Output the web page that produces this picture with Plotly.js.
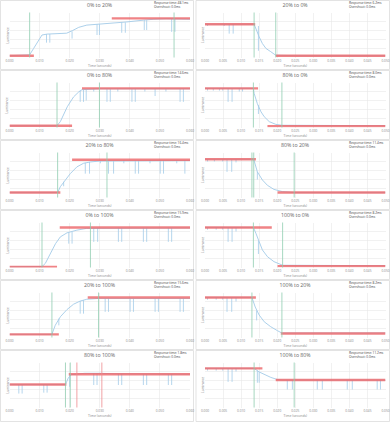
<!DOCTYPE html>
<html><head><meta charset="utf-8">
<script src="https://cdn.plot.ly/plotly-3.0.1.min.js"></script>
<style>html,body{margin:0;padding:0;background:#fff;overflow:hidden;}#wrap{width:390px;height:422px;overflow:hidden;}#chart{width:780px;height:844px;transform:scale(0.5);transform-origin:0 0;}</style>
</head><body><div id="wrap"><div id="chart"></div></div>
<script>
// ---------- data ----------
const TITLES = ["0% to 20%","20% to 0%","0% to 80%","80% to 0%","20% to 80%","80% to 20%","0% to 100%","100% to 0%","20% to 100%","100% to 20%","80% to 100%","100% to 80%"];
const RESPONSE_MS = [48.1,6.2,14.6,8.0,16.4,11.4,15.9,8.2,15.6,8.2,1.8,11.2];
const OVERSHOOT_MS = [0,0,0,0,0,0,0,0,0,0,0,0];
const START_LEVEL = [0.04,0.74,0.04,0.87,0.11,0.85,0.015,0.89,0.07,0.89,0.51,0.87];
const END_LEVEL   = [0.87,0.04,0.87,0.03,0.84,0.11,0.89,0.03,0.89,0.09,0.74,0.61];
const START_LINE_END_MS = [8.1,13.9,20.8,14.7,16.9,14.1,15.8,18.5,16.4,14.1,18.9,15.9];
const END_LINE_START_MS = [34.0,19.6,24.1,17.3,20.8,20.1,16.7,20.1,26.0,21.0,19.7,19.6];
const GREEN_MS = [[6.7,54.7],[13.6,19.6],[15.8,29.9],[13.4,21.3],[16.0,32.4],[13.0,13.5,24.7],[10.8,26.9],[13.4,21.5],[14.1,29.6],[13.0,21.3],[18.6,20.2],[13.6,24.7]];
const RED_V_MS = [[],[],[],[],[],[],[],[],[],[],[22.4,30.7],[]];
const X_MAX_S = [0.06,0.05,0.06,0.05,0.06,0.05,0.06,0.05,0.06,0.05,0.06,0.05];
const TICKS_LEFT = ["0.000","0.010","0.020","0.030","0.040","0.050","0.060"];
const TICKS_RIGHT = ["0.000","0.005","0.010","0.015","0.020","0.025","0.030","0.035","0.040","0.045","0.050"];

const curve01_ms = [0,6.7,8.0,10.8,12.5,15,19,21,23,25.7,30,35,39,44.5,48,52,60];
const curve01_y  = [0.04,0.06,0.2,0.5,0.52,0.53,0.54,0.6,0.67,0.72,0.74,0.77,0.79,0.83,0.85,0.86,0.85];
const spikes01_ms  = [12.3,13.4,20.8,29.1,29.9,37.3,38.5,44.8,45.6,53.9,55.0];
const spikes01_top = [0.52,0.52,0.58,0.74,0.74,0.78,0.78,0.83,0.83,0.86,0.86];
const spikes01_bot = [0.33,0.33,0.42,0.50,0.50,0.55,0.55,0.61,0.61,0.57,0.57];

const curve02_ms = [0,13.6,13.9,15.0,15.9,16.9,18.2,19.6,25,50];
const curve02_y  = [0.74,0.74,0.68,0.46,0.31,0.2,0.13,0.05,0.04,0.04];
const spikes02_ms  = [0.7,5.3,6.7,7.8,14.8];
const spikes02_top = [0.74,0.74,0.74,0.74,0.70];
const spikes02_bot = [0.70,0.70,0.53,0.53,0.15];

const curve03_ms = [0,15.8,16.9,19.2,21.3,23,24.1,30,60];
const curve03_y  = [0.04,0.04,0.13,0.46,0.68,0.79,0.84,0.86,0.86];
const spikes03_ms  = [23.5,24.6,25.5,28,32.4,33.5,36,40.7,41.8,45,48.4,52,56.7,57.8];
const spikes03_top = [0.82,0.84,0.85,0.86,0.86,0.86,0.86,0.86,0.86,0.86,0.86,0.86,0.86,0.86];
const spikes03_bot = [0.57,0.57,0.60,0.80,0.57,0.57,0.80,0.57,0.57,0.80,0.70,0.80,0.57,0.57];

const curve04_ms = [0,13.4,13.6,14.5,15.5,16.4,17.8,19.6,21.3,50];
const curve04_y  = [0.87,0.87,0.76,0.53,0.35,0.24,0.13,0.07,0.05,0.04];
const spikes04_ms  = [0.7,2.3,4.0,4.9,6.4,7.5,9.5,10.4,14.8];
const spikes04_top = [0.87,0.87,0.87,0.87,0.87,0.87,0.87,0.87,0.50];
const spikes04_bot = [0.82,0.82,0.82,0.82,0.57,0.57,0.80,0.80,0.30];

const curve05_ms = [0,16,16.9,18.6,20.2,22.4,24.6,26.9,30,60];
const curve05_y  = [0.11,0.11,0.24,0.39,0.53,0.68,0.76,0.79,0.81,0.82];
const spikes05_ms  = [18.0,25.2,26.6,30.2,32.9,34.6,38,41.8,42.9,46.7,50.1,51.2,55.6,58.3];
const spikes05_top = [0.35,0.77,0.79,0.81,0.81,0.81,0.82,0.82,0.82,0.82,0.82,0.82,0.82,0.82];
const spikes05_bot = [0.25,0.53,0.53,0.76,0.53,0.53,0.76,0.53,0.53,0.76,0.53,0.53,0.76,0.53];

const curve06_ms = [0,13.5,14.5,15.9,17.3,19.1,21.5,24.7,50];
const curve06_y  = [0.85,0.85,0.57,0.39,0.27,0.18,0.13,0.11,0.11];
const spikes06_ms  = [0.7,2.6,4.9,6.1,7.4,8.6,14.5];
const spikes06_top = [0.85,0.85,0.85,0.85,0.85,0.85,0.57];
const spikes06_bot = [0.80,0.80,0.80,0.57,0.57,0.78,0.40];

const curve07_ms = [0,10.8,11.9,13.6,15.3,16.9,19.1,22.4,25.7,60];
const curve07_y  = [0.015,0.02,0.09,0.31,0.53,0.68,0.77,0.83,0.87,0.88];
const spikes07_ms  = [19.7,20.8,28.0,29.3,36.2,37.3,44.5,45.6,52.8,53.9];
const spikes07_top = [0.78,0.79,0.88,0.88,0.88,0.88,0.88,0.88,0.88,0.88];
const spikes07_bot = [0.53,0.53,0.57,0.57,0.57,0.57,0.57,0.57,0.57,0.57];

const curve08_ms = [0,13.4,14.1,15.0,15.9,17.3,19.1,21.5,50];
const curve08_y  = [0.89,0.89,0.76,0.57,0.39,0.24,0.13,0.05,0.04];
const spikes08_ms  = [0.7,3.1,4.9,6.4,7.5,8.6,14.8];
const spikes08_top = [0.89,0.89,0.89,0.89,0.89,0.89,0.60];
const spikes08_bot = [0.84,0.84,0.84,0.57,0.57,0.80,0.30];

const curve09_ms = [0,14.1,15.2,16.9,19.1,21.3,23.5,25.7,30,60];
const curve09_y  = [0.07,0.07,0.27,0.46,0.62,0.74,0.81,0.85,0.87,0.87];
const spikes09_ms  = [16.4,23.5,24.6,31.8,32.9,40.1,41.2,48.4,49.5,56.7,57.8];
const spikes09_top = [0.42,0.81,0.83,0.87,0.87,0.87,0.87,0.87,0.87,0.87,0.87];
const spikes09_bot = [0.27,0.53,0.53,0.57,0.57,0.57,0.57,0.57,0.57,0.57,0.57];

const curve10_ms = [0,13.0,13.9,15.0,16.4,18.2,20.1,21.3,50];
const curve10_y  = [0.89,0.89,0.68,0.5,0.35,0.24,0.15,0.1,0.1];
const spikes10_ms  = [0.7,3.1,4.9,6.1,7.4,8.6,14.3];
const spikes10_top = [0.89,0.89,0.89,0.89,0.89,0.89,0.60];
const spikes10_bot = [0.84,0.84,0.84,0.57,0.57,0.80,0.38];

const curve11_ms = [0,18.6,19.5,20.5,25,30,35,60];
const curve11_y  = [0.51,0.51,0.65,0.73,0.76,0.76,0.75,0.74];
const spikes11_ms  = [3.1,4.2,11.4,12.5,20.0,28.0,29.1,36.2,37.3,44.5,45.6,52.8,53.9];
const spikes11_top = [0.51,0.51,0.51,0.51,0.74,0.76,0.76,0.75,0.75,0.74,0.74,0.74,0.74];
const spikes11_bot = [0.31,0.31,0.33,0.33,0.46,0.50,0.50,0.50,0.50,0.50,0.50,0.50,0.50];

const curve12_ms = [0,13.6,15.0,16.9,18.2,20.1,21.5,50];
const curve12_y  = [0.87,0.87,0.79,0.72,0.67,0.62,0.61,0.61];
const spikes12_ms  = [0.7,3.1,4.9,6.4,7.5,8.6,14.5,15.0,22.8,24.2,31.1,32.5,39.4,40.8,47.7,48.6];
const spikes12_top = [0.87,0.87,0.87,0.87,0.87,0.87,0.82,0.79,0.61,0.61,0.61,0.61,0.61,0.61,0.61,0.61];
const spikes12_bot = [0.82,0.82,0.82,0.57,0.57,0.80,0.55,0.55,0.40,0.40,0.40,0.40,0.40,0.40,0.40,0.40];

const CURVES = [
 [curve01_ms,curve01_y,spikes01_ms,spikes01_top,spikes01_bot],
 [curve02_ms,curve02_y,spikes02_ms,spikes02_top,spikes02_bot],
 [curve03_ms,curve03_y,spikes03_ms,spikes03_top,spikes03_bot],
 [curve04_ms,curve04_y,spikes04_ms,spikes04_top,spikes04_bot],
 [curve05_ms,curve05_y,spikes05_ms,spikes05_top,spikes05_bot],
 [curve06_ms,curve06_y,spikes06_ms,spikes06_top,spikes06_bot],
 [curve07_ms,curve07_y,spikes07_ms,spikes07_top,spikes07_bot],
 [curve08_ms,curve08_y,spikes08_ms,spikes08_top,spikes08_bot],
 [curve09_ms,curve09_y,spikes09_ms,spikes09_top,spikes09_bot],
 [curve10_ms,curve10_y,spikes10_ms,spikes10_top,spikes10_bot],
 [curve11_ms,curve11_y,spikes11_ms,spikes11_top,spikes11_bot],
 [curve12_ms,curve12_y,spikes12_ms,spikes12_top,spikes12_bot]
];

// ---------- build (drawn at 2x, scaled down by CSS so tiny text is allowed) ----------
const S = 2;
const W = 390, H = 422;
const BLUE = '#a3cbe8', RED = 'rgba(236,100,104,0.8)', GREEN = '#8fcdb0', GRID = '#e8e8e8';
const FONT = 'Open Sans, Liberation Sans, sans-serif';
const px = v => v / W, py = v => 1 - v / H;
const traces = [], shapes = [], annotations = [];
const layout = {width: W * S, height: H * S, margin: {l:0,r:0,t:0,b:0}, paper_bgcolor:'#fff', plot_bgcolor:'#fff', showlegend:false, font:{family:FONT, color:'#666'}};

for (let i = 0; i < 12; i++) {
  const n = i + 1, r = Math.floor(i / 2), c = i % 2;
  const xa = 'x' + (n > 1 ? n : ''), ya = 'y' + (n > 1 ? n : '');
  const bx0 = c === 0 ? 0.5 : 196, bx1 = c === 0 ? 193.5 : 389.5;
  const by0 = r * 70 + 0.5, by1 = (r === 5 ? 421.5 : r * 70 + 69.5);
  const plotL = bx0 + 9, plotR = c === 0 ? 190 : 385.5;
  const plotT = r * 70 + 12.5, plotB = r * 70 + 57.5;
  const left = c === 0;
  const tickText = left ? TICKS_LEFT : TICKS_RIGHT;
  const tickVals = tickText.map(Number);
  layout['xaxis' + (n > 1 ? n : '')] = {domain:[px(plotL), px(plotR)], anchor: ya, range:[0, X_MAX_S[i]], tickvals: tickVals, ticktext: tickText,
    showgrid:true, gridcolor:GRID, gridwidth:0.6 * S, zeroline:false, showline:false, ticks:'', tickfont:{size:3.2 * S, color:'#888'}, ticklabelstandoff:1 * S, fixedrange:true};
  layout['yaxis' + (n > 1 ? n : '')] = {domain:[py(plotB), py(plotT)], anchor: xa, range:[0, 1], dtick:0.2,
    showgrid:true, gridcolor:GRID, gridwidth:0.6 * S, zeroline:false, showline:false, showticklabels:false, ticks:'', fixedrange:true};

  const [cx, cy, sx, st, sb] = CURVES[i];
  traces.push({type:'scatter', mode:'lines', xaxis:xa, yaxis:ya, x: cx.map(v => v / 1000), y: cy, line:{color:BLUE, width:0.9 * S}, hoverinfo:'skip'});
  const spX = [], spY = [];
  sx.forEach((v, k) => { spX.push(v / 1000, v / 1000, null); spY.push(st[k], sb[k], null); });
  traces.push({type:'scatter', mode:'lines', xaxis:xa, yaxis:ya, x: spX, y: spY, line:{color:BLUE, width:0.8 * S}, hoverinfo:'skip'});
  traces.push({type:'scatter', mode:'lines', xaxis:xa, yaxis:ya, x:[0, START_LINE_END_MS[i] / 1000], y:[START_LEVEL[i], START_LEVEL[i]], line:{color:RED, width:2.4 * S}, hoverinfo:'skip'});
  traces.push({type:'scatter', mode:'lines', xaxis:xa, yaxis:ya, x:[END_LINE_START_MS[i] / 1000, X_MAX_S[i]], y:[END_LEVEL[i], END_LEVEL[i]], line:{color:RED, width:2.4 * S}, hoverinfo:'skip'});
  GREEN_MS[i].forEach(g => shapes.push({type:'line', xref:xa, yref: ya + ' domain', x0:g / 1000, x1:g / 1000, y0:0, y1:1, line:{color:GREEN, width:0.8 * S}}));
  RED_V_MS[i].forEach(g => shapes.push({type:'line', xref:xa, yref: ya + ' domain', x0:g / 1000, x1:g / 1000, y0:0, y1:1, line:{color:'#ee8a8e', width:0.8 * S}}));
  shapes.push({type:'rect', xref:'paper', yref:'paper', x0:px(bx0), x1:px(bx1), y0:py(by1), y1:py(by0), line:{color:'#dcdcdc', width:0.8 * S}, layer:'below'});

  const cxMid = c === 0 ? 100 : 295;
  annotations.push({xref:'paper', yref:'paper', x:px(cxMid), y:py(r * 70 + 5), text:TITLES[i], showarrow:false, xanchor:'center', yanchor:'middle', font:{size:5.2 * S, color:'#666'}});
  const tx = c === 0 ? 153 : 348;
  annotations.push({xref:'paper', yref:'paper', x:px(tx), y:py(r * 70 + 2.8), text:'Response time: ' + RESPONSE_MS[i].toFixed(1) + 'ms', showarrow:false, xanchor:'left', yanchor:'middle', font:{size:3.2 * S, color:'#444'}});
  annotations.push({xref:'paper', yref:'paper', x:px(tx), y:py(r * 70 + 6.6), text:'Overshoot: ' + OVERSHOOT_MS[i].toFixed(1) + 'ms', showarrow:false, xanchor:'left', yanchor:'middle', font:{size:3.2 * S, color:'#444'}});
  annotations.push({xref:'paper', yref:'paper', x:px((plotL + plotR) / 2), y:py(r * 70 + 65.5), text:'Time (seconds)', showarrow:false, xanchor:'center', yanchor:'middle', font:{size:3.4 * S, color:'#888'}});
  annotations.push({xref:'paper', yref:'paper', x:px(bx0 + 6.5), y:py(r * 70 + 35), text:'Luminance', textangle:-90, showarrow:false, xanchor:'center', yanchor:'middle', font:{size:3.2 * S, color:'#888'}});
}
layout.shapes = shapes;
layout.annotations = annotations;
Plotly.newPlot('chart', traces, layout, {staticPlot:true, displayModeBar:false});
</script></body></html>
